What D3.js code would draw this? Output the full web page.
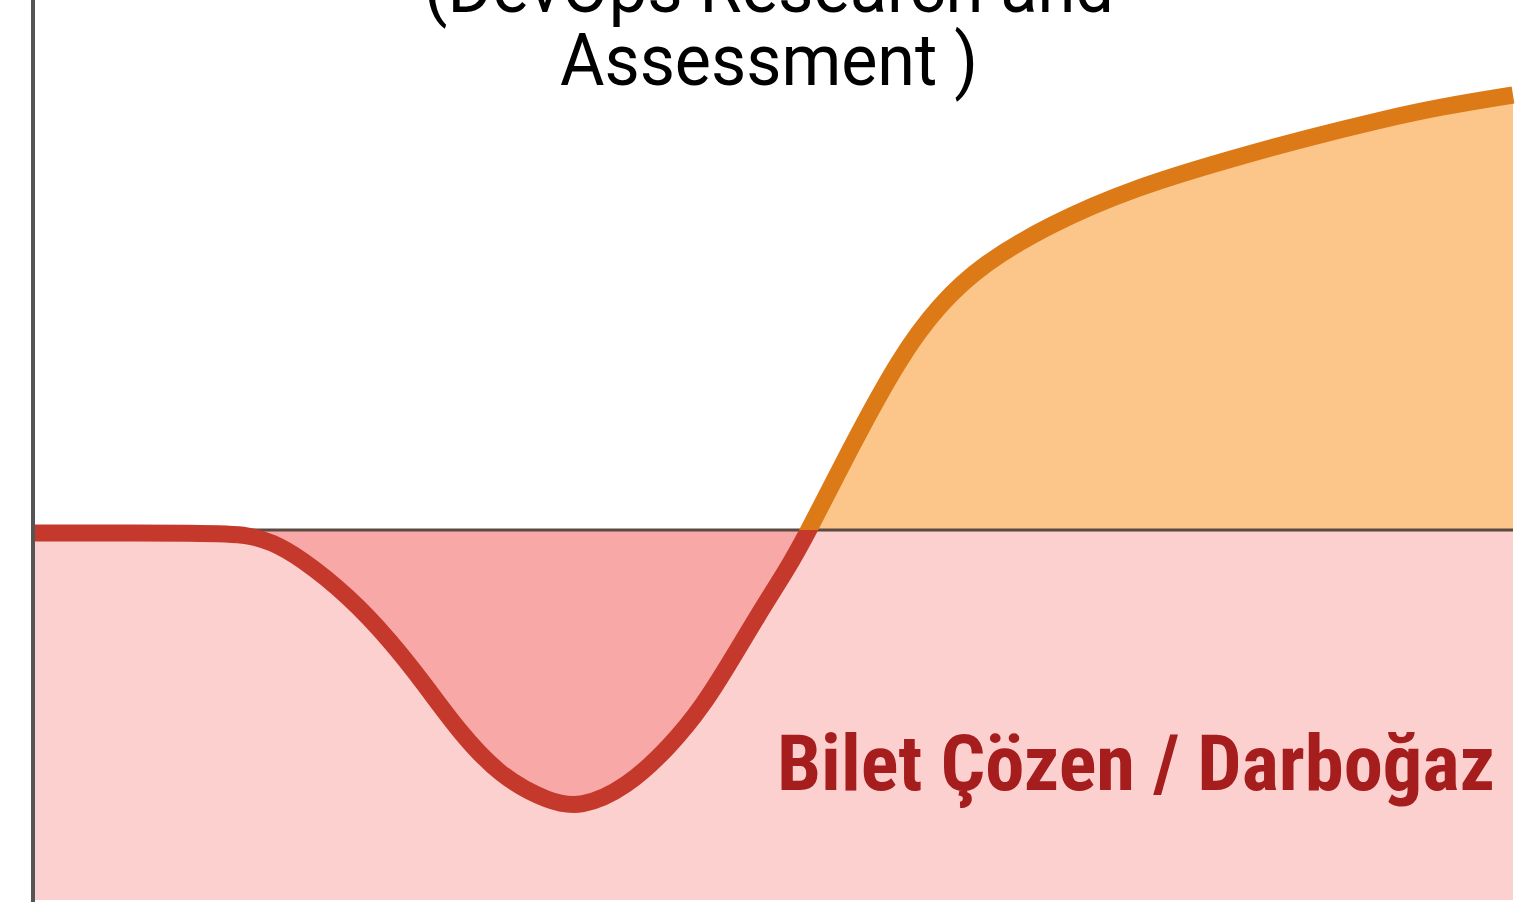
<!DOCTYPE html>
<html>
<head>
<meta charset="utf-8">
<script src="https://cdn.jsdelivr.net/npm/d3@7"></script>
<style>
  html, body { margin: 0; padding: 0; background: #fff; }
  svg { display: block; }
</style>
</head>
<body>
<svg></svg>
<script>
// curve: x in 0..100 across the plot, y relative to the baseline
const xs = [0, 12, 14.5, 16, 17.9, 21.3, 24, 26.3, 28.6, 31.5, 34.8, 36.9, 40, 43, 45.2, 47.2, 49, 50.9, 52.2, 55.1, 58.5, 61.2, 64.1, 68.7, 74.3, 81.1, 86.3, 91, 95, 100];
const ys = [-0.3, -0.3, -0.5, -1.2, -2.7, -6.7, -11, -15.3, -20, -24.7, -27.2, -27.8, -25.8, -21.6, -17.6, -12.8, -8.3, -3.9, -0.5, 8, 17.3, 22.6, 26.6, 30.6, 34.2, 37.2, 39.3, 41.0, 42.3, 43.5];
const titleLines = ["(DevOps Research and", "Assessment )"];
const LABEL = "Bilet Çözen / Darboğaz";

const width = 1537;
const height = 906;

const svg = d3.select("svg")
    .attr("width", width)
    .attr("height", height);

const data = xs.map((x, i) => ({x: x, y: ys[i]}));

const x = d3.scaleLinear().domain([0, 100]).range([35, 1513]);
const y = d3.scaleLinear().domain([-37, 50]).range([900, 30]);
const y0 = y(0);

// pink band below the baseline
svg.append("rect")
    .attr("x", x(0))
    .attr("y", y0)
    .attr("width", x(100) - x(0))
    .attr("height", y(-37) - y0)
    .attr("fill", "#fcd0cf");

const line = d3.line()
    .x(d => x(d.x))
    .y(d => y(d.y))
    .curve(d3.curveBasis);

// one closed shape between the curve and the baseline, split by clips
const fillPath = line(data) + `L${x(100)},${y0}L${x(0)},${y0}Z`;

const defs = svg.append("defs");
defs.append("clipPath").attr("id", "belowBase")
    .append("rect").attr("x", 0).attr("y", y0).attr("width", width).attr("height", height - y0);
defs.append("clipPath").attr("id", "aboveBase")
    .append("rect").attr("x", 0).attr("y", 0).attr("width", width).attr("height", y0);

svg.append("path")
    .attr("clip-path", "url(#belowBase)")
    .attr("fill", "#f8a8a6")
    .attr("d", fillPath);

svg.append("path")
    .attr("clip-path", "url(#aboveBase)")
    .attr("fill", "#fcc68b")
    .attr("d", fillPath);

// baseline
svg.append("line")
    .attr("x1", x(0))
    .attr("x2", x(100))
    .attr("y1", y0)
    .attr("y2", y0)
    .attr("stroke", "#5b4a42")
    .attr("stroke-width", 3);

// red before the crossing, orange above the baseline after it
const splitX = x(45);
const redClip = defs.append("clipPath").attr("id", "redpart");
redClip.append("rect").attr("x", 0).attr("y", 0).attr("width", splitX).attr("height", height);
redClip.append("rect").attr("x", 0).attr("y", y0).attr("width", width).attr("height", height - y0);
defs.append("clipPath").attr("id", "orangepart")
    .append("rect").attr("x", splitX).attr("y", 0).attr("width", width - splitX).attr("height", y0);

svg.append("path")
    .datum(data)
    .attr("clip-path", "url(#redpart)")
    .attr("fill", "none")
    .attr("stroke", "#c5382c")
    .attr("stroke-width", 17)
    .attr("d", line);

svg.append("path")
    .datum(data)
    .attr("clip-path", "url(#orangepart)")
    .attr("fill", "none")
    .attr("stroke", "#db7a16")
    .attr("stroke-width", 17)
    .attr("d", line);

// vertical axis
svg.append("line")
    .attr("x1", 33)
    .attr("x2", 33)
    .attr("y1", 0)
    .attr("y2", 902)
    .attr("stroke", "#555")
    .attr("stroke-width", 4);

// title (top line is cut off by the frame)
const titleLens = [690, 418];
svg.selectAll("text.title")
    .data(titleLines)
    .enter().append("text")
        .attr("class", "title")
        .attr("x", 769)
        .attr("y", (d, i) => 12 + i * 73)
        .attr("text-anchor", "middle")
        .attr("font-family", "Roboto, sans-serif")
        .attr("font-size", 72)
        .attr("fill", "#000")
        .attr("textLength", (d, i) => titleLens[i])
        .attr("lengthAdjust", "spacingAndGlyphs")
        .text(d => d);

svg.append("text")
    .attr("x", 777)
    .attr("y", 790)
    .attr("font-family", "'Liberation Sans Narrow', 'Roboto Condensed', Roboto, sans-serif")
    .attr("font-weight", "bold")
    .attr("font-size", 78)
    .attr("fill", "#a51d1d")
    .attr("textLength", 718)
    .attr("lengthAdjust", "spacingAndGlyphs")
    .text(LABEL);
</script>
</body>
</html>
